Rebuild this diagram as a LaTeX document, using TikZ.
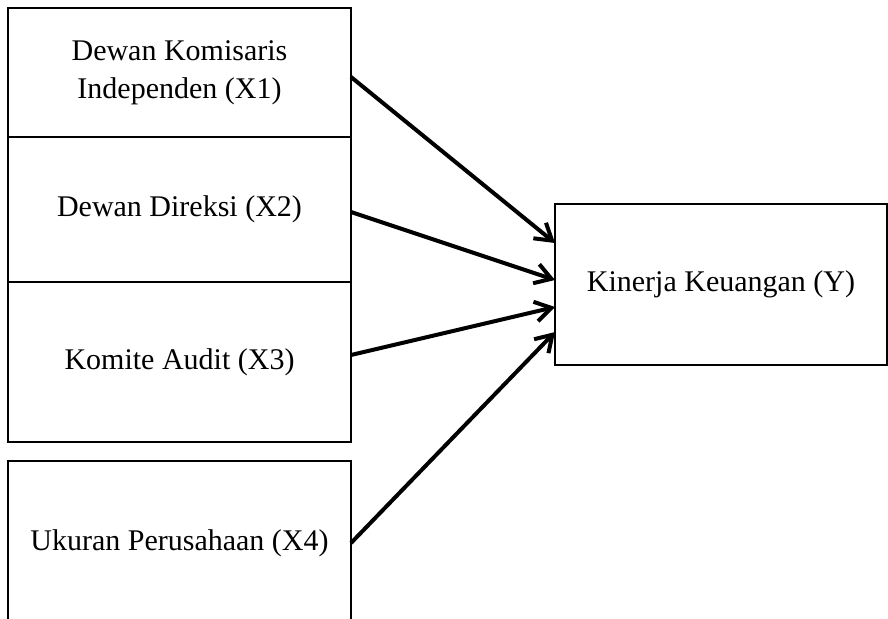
\documentclass[tikz,border=0pt]{standalone}
\usepackage{fontspec}
\setmainfont{Liberation Serif}
\usetikzlibrary{arrows.meta,positioning,calc}

\begin{document}
\begin{tikzpicture}[
  x=0.5pt, y=-0.5pt,
  varbox/.style={draw, line width=1.2pt, fill=white, inner sep=0pt, outer sep=0pt,
                 minimum width=171.5pt, align=center,
                 font=\fontsize{15}{19}\selectfont},
  effect/.style={line width=2pt, -{Straight Barb[length=8pt, width=10pt]}}
]
\clip (0,0) rectangle (888,618);

% independent variables
\node[varbox, minimum height=64.5pt] (komisaris) at (179.5,72.5)
  {Dewan Komisaris\\Independen (X1)};
\node[varbox, minimum height=72.5pt, below=0pt of komisaris] (direksi)
  {Dewan Direksi (X2)};
\node[varbox, minimum height=80pt, below=0pt of direksi] (audit)
  {Komite Audit (X3)};
\node[varbox, minimum height=82pt] (ukuran) at (179.5,543)
  {Ukuran Perusahaan (X4)};

% dependent variable
\node[varbox, minimum width=166pt, minimum height=80.5pt] (kinerja) at (721,284.5)
  {Kinerja Keuangan (Y)};

\draw[effect] ($(komisaris.east)+(0,4.5)$) -- ($(kinerja.west)+(0,-41.5)$);
\draw[effect] ($(direksi.east)+(0,2.5)$)   -- ($(kinerja.west)+(0,-4.5)$);
\draw[effect] ($(audit.east)+(0,-7)$)      -- ($(kinerja.west)+(0,22.5)$);
\draw[effect] ($(ukuran.east)+(0,0)$)      -- ($(kinerja.west)+(0,47.5)$);
\end{tikzpicture}
\end{document}
